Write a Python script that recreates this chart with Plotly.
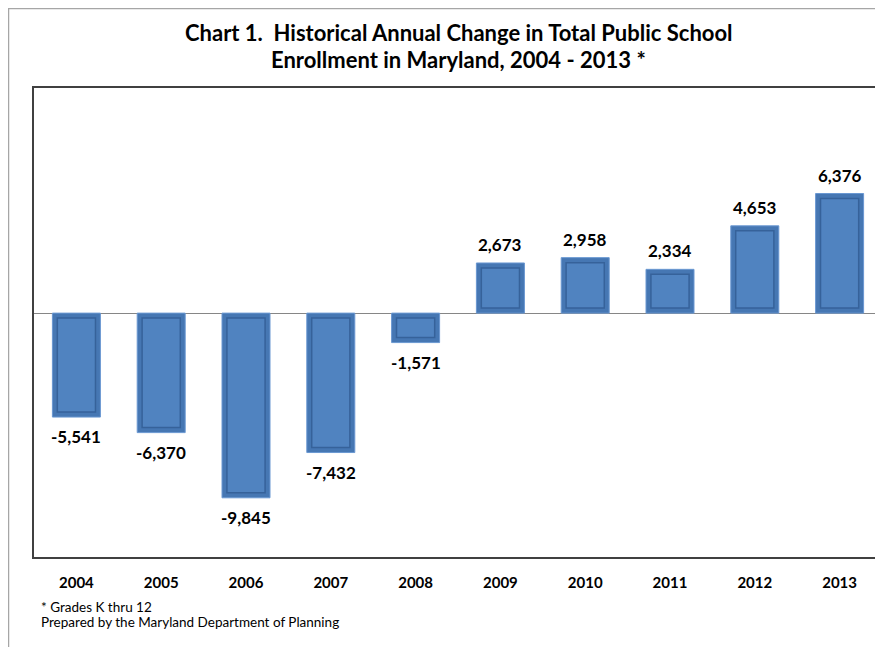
import plotly.graph_objects as go

# ---- data ----
years = ["2004", "2005", "2006", "2007", "2008", "2009", "2010", "2011", "2012", "2013"]
changes = [-5541, -6370, -9845, -7432, -1571, 2673, 2958, 2334, 4653, 6376]
value_labels = [f"{v:,}" for v in changes]

title_lines = [
    "Chart 1.  Historical Annual Change in Total Public School",
    "Enrollment in Maryland, 2004 - 2013 *",
]
footnotes = ["* Grades K thru 12", "Prepared by the Maryland Department of Planning"]

# ---- layout constants (page pixels; the page body has an 8px margin) ----
OFF = 8
W, H = 883 - OFF, 647 - OFF
PL, PR, PT, PB = 34, 882, 88, 557           # plot area in page pixels
L, T = PL - OFF, PT - OFF
R = W - (PR - OFF)
B = H - (PB - OFF)
plot_w = W - L - R
plot_h = H - T - B
y_range = [-13000, 12000]
px_per_unit = plot_h / (y_range[1] - y_range[0])
inset = 5 / px_per_unit  # bevel inset in data units

FONT = "Lato, Carlito, Calibri, 'Open Sans', sans-serif"

def sgn(v):
    return 1 if v >= 0 else -1

idx = list(range(len(years)))
inner_base = [sgn(v) * inset for v in changes]
inner_len = [v - sgn(v) * 2 * inset for v in changes]

fig = go.Figure()
# outer rim of bevelled bars
fig.add_trace(go.Bar(
    x=idx, y=changes, width=0.566,
    marker=dict(color="#4677B3", line=dict(color="#6A98D2", width=1)),
    hoverinfo="skip", showlegend=False,
))
# inner face
fig.add_trace(go.Bar(
    x=idx, y=inner_len, base=inner_base, width=0.45,
    marker=dict(color="#5083C0", line=dict(color="#36629A", width=1.5)),
    hoverinfo="skip", showlegend=False,
))

annotations = []
for i, v, lab in zip(idx, changes, value_labels):
    annotations.append(dict(
        x=i, y=v, xref="x", yref="y", text=f"<b>{lab}</b>", showarrow=False,
        yanchor="bottom" if v >= 0 else "top", yshift=6 if v >= 0 else -7,
        font=dict(family=FONT, size=17, color="#000000"),
    ))

def py(pix):
    return (PB - pix) / plot_h

def px(pix):
    return (pix - PL) / plot_w

for txt, ypix in zip(title_lines, [32, 59]):
    annotations.append(dict(
        x=px(459), y=py(ypix), xref="paper", yref="paper", text=f"<b>{txt}</b>",
        showarrow=False, xanchor="center", yanchor="middle",
        font=dict(family=FONT, size=22, color="#000000"),
    ))

for txt, ypix in zip(footnotes, [607, 622]):
    annotations.append(dict(
        x=px(39), y=py(ypix), xref="paper", yref="paper", text=txt,
        showarrow=False, xanchor="left", yanchor="middle",
        font=dict(family=FONT, size=13.5, color="#000000"),
    ))

shapes = [dict(
    type="rect", xref="paper", yref="paper",
    x0=px(8.5), x1=px(900), y0=py(670), y1=py(8.5),
    line=dict(color="#A6A6A6", width=1.5), fillcolor="rgba(0,0,0,0)", layer="below",
)]

fig.update_layout(
    width=W, height=H,
    margin=dict(l=L, r=R, t=T, b=B, pad=0, autoexpand=False),
    paper_bgcolor="#FFFFFF", plot_bgcolor="#FFFFFF",
    barmode="overlay",
    showlegend=False,
    annotations=annotations, shapes=shapes,
    xaxis=dict(
        range=[-0.5, len(years) - 0.5], automargin=False,
        tickmode="array", tickvals=idx, ticktext=[f"<b>{y}</b>" for y in years],
        showgrid=False, showline=True, mirror=True, linecolor="#404040", linewidth=1.5,
        ticks="outside", ticklen=11, tickcolor="rgba(0,0,0,0)",
        tickfont=dict(family=FONT, size=15, color="#000000"),
        zeroline=False,
    ),
    yaxis=dict(
        automargin=False,
        range=y_range, showgrid=False, showticklabels=False, ticks="",
        showline=True, mirror=True, linecolor="#404040", linewidth=1.5,
        zeroline=True, zerolinecolor="#868686", zerolinewidth=1,
    ),
)

fig.write_html("out.html")
